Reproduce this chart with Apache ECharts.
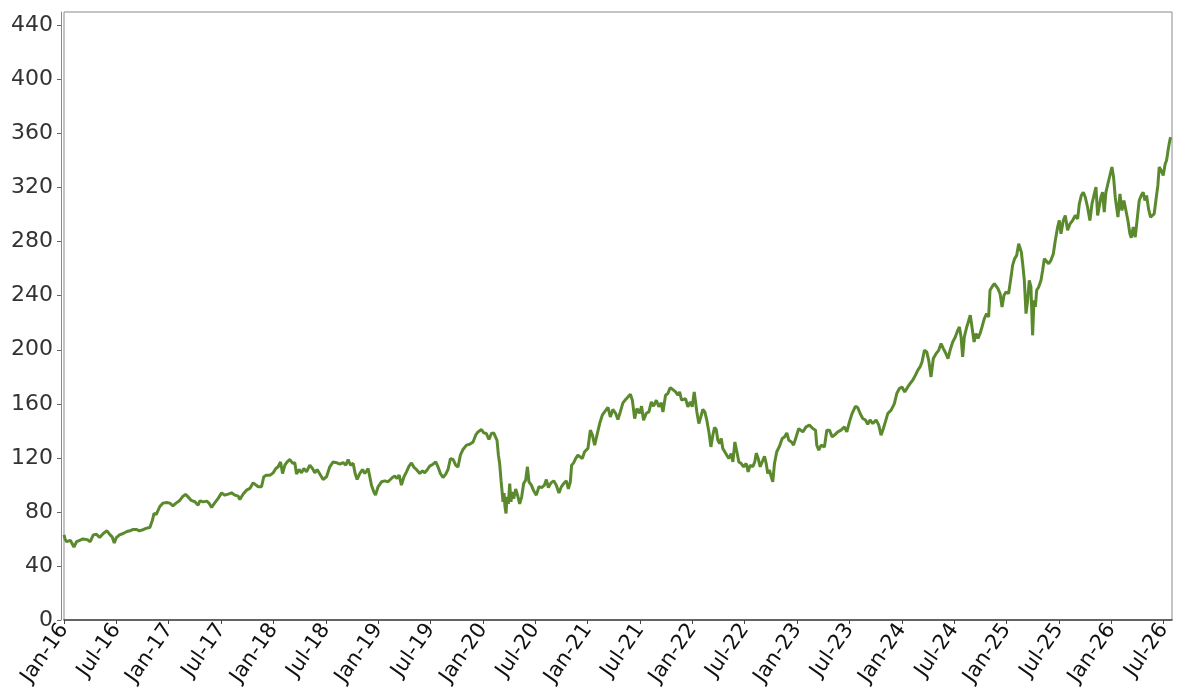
<!DOCTYPE html>
<html>
<head>
<meta charset="utf-8">
<script src="https://cdn.jsdelivr.net/npm/echarts@6/dist/echarts.min.js"></script>
<style>
  html, body { margin: 0; padding: 0; background: #ffffff; }
  #chart { width: 1200px; height: 700px; }
</style>
</head>
<body>
<div id="chart"></div>
<script>
// x = decimal year, y = value
const series2016 = [
  [2016.00,63],[2016.01,60],[2016.025,58],[2016.06,59],[2016.095,54],[2016.12,58],[2016.15,59],[2016.18,60],
  [2016.22,59.5],[2016.25,58],[2016.28,63],[2016.31,63.5],[2016.34,61],[2016.375,64],[2016.41,66],[2016.44,63],
  [2016.46,61.5],[2016.48,57],[2016.50,61],[2016.53,63],[2016.565,64],[2016.60,65.5],[2016.63,66],[2016.66,67],
  [2016.69,67],[2016.72,66],[2016.76,67],[2016.79,68],[2016.82,68.5],[2016.835,68.5],[2016.845,74],[2016.86,79],
  [2016.88,78],[2016.915,84],[2016.945,86.5],[2016.98,87],[2017.01,86.5],[2017.04,84.5],[2017.07,86.5],
  [2017.105,88.5],[2017.135,91.5],[2017.16,93],[2017.18,91.5],[2017.215,88.5],[2017.25,87.5],[2017.28,85]
];
const series2017 = [
  [2017.298,88.2],[2017.329,87.4],[2017.362,88],[2017.387,86.3],[2017.409,83.3],[2017.441,86.8],[2017.472,90],
  [2017.505,94.1],[2017.536,92.4],[2017.568,93.2],[2017.600,94.1],[2017.632,92.4],[2017.663,91.7],[2017.679,89.2],
  [2017.711,93.2],[2017.743,96.1],[2017.775,97.4],[2017.806,101.5],[2017.832,100],[2017.854,98.6],[2017.886,98.6],
  [2017.908,106],[2017.934,107.2],[2017.966,107.2],[2017.997,108.9],[2018.023,112.1],[2018.045,113.4],[2018.068,117],
  [2018.087,108.4],[2018.109,114.6],[2018.131,117],[2018.157,118.8],[2018.182,116],[2018.204,116.4],[2018.220,108],
  [2018.245,111.4],[2018.268,108.9],[2018.290,112.1],[2018.316,109.7],[2018.347,114.6],[2018.373,112.1],
  [2018.395,108.9],[2018.417,111.4],[2018.443,108],[2018.474,104],[2018.507,106],[2018.538,113.4],[2018.570,117],
  [2018.602,116.4],[2018.634,115.3],[2018.665,116.4],[2018.691,114.6],[2018.713,118.8],[2018.736,114.6],
  [2018.761,116],[2018.780,108.4],[2018.799,104],[2018.824,108.4],[2018.850,111.4],[2018.872,108.4],
  [2018.904,112.1],[2018.920,106],[2018.936,99.8],[2018.958,94.9],[2018.974,92.4],[2018.999,98.6],
  [2019.032,102.3],[2019.063,103],[2019.094,102.3]
];
const series2019 = [
  [2019.111,102.3],[2019.136,105.5],[2019.158,106.5],[2019.180,104.8],[2019.200,107.2],[2019.222,99.8],
  [2019.244,105.5],[2019.270,109.7],[2019.295,113.9],[2019.318,116.3],[2019.340,113.2],[2019.365,111.4],
  [2019.397,108.4],[2019.423,110.4],[2019.445,109],[2019.467,111],[2019.492,113.9],[2019.524,115.3],
  [2019.550,117],[2019.572,113.2],[2019.594,108.4],[2019.619,105.5],[2019.645,108],[2019.667,111.4],
  [2019.690,119.5],[2019.715,118.8],[2019.740,114.6],[2019.762,113.2],[2019.785,122],[2019.810,126.2],
  [2019.843,129.4],[2019.874,130.1],[2019.906,131.8],[2019.931,136.8],[2019.953,139.2],[2019.986,141],
  [2020.008,138.5],[2020.033,138],[2020.058,133.6],[2020.081,138],[2020.103,138.5],[2020.122,137.5],
  [2020.135,133],[2020.148,122],[2020.160,115.8],[2020.173,103.5],[2020.182,96.1],[2020.192,87.5],
  [2020.202,94],[2020.211,83.8],[2020.221,78.9],[2020.230,91.2],[2020.243,85.9],[2020.256,101],
  [2020.268,87.5],[2020.281,94.7],[2020.294,89.8],[2020.313,97],[2020.332,92],[2020.351,86],[2020.370,91],
  [2020.389,101],[2020.408,103.5],[2020.425,113.4],[2020.440,102.3],[2020.463,99.8],[2020.485,95.6],
  [2020.510,92.4],[2020.535,98.6],[2020.561,98],[2020.587,99.8],[2020.606,104],[2020.625,98],[2020.650,101.5],
  [2020.676,103],[2020.701,99.8],[2020.726,94],[2020.749,98.6],[2020.771,101],[2020.797,103],[2020.816,97],
  [2020.835,102.3],[2020.847,114.6],[2020.866,116.3],[2020.885,119.5],[2020.907,122]
];
const series2021 = [
  [2020.924,122],[2020.949,119.5],[2020.971,124.5],[2021.003,127],[2021.026,140.5],[2021.045,137],
  [2021.067,129.4],[2021.089,136.8],[2021.115,145.4],[2021.140,151.6],[2021.162,154],[2021.194,157.3],
  [2021.217,150.3],[2021.241,155.8],[2021.267,153],[2021.289,148.4],[2021.312,154],[2021.337,160.7],
  [2021.363,163.2],[2021.385,165.1],[2021.408,167.1],[2021.427,162.7],[2021.449,149.1],[2021.471,156.5],
  [2021.496,153],[2021.515,158.2],[2021.534,147.9],[2021.560,153],[2021.585,154],[2021.608,161.4],
  [2021.630,158.2],[2021.656,162.7],[2021.680,157.8],[2021.703,160.7],[2021.719,154],[2021.744,166.4],
  [2021.766,167.6],[2021.789,172],[2021.814,170.5],[2021.840,168.8],[2021.862,166.4],[2021.878,168.8],
  [2021.897,162.7],[2021.916,161.4],[2021.935,163.9],[2021.957,157.8],[2021.980,161.4],[2021.999,157.8],
  [2022.018,168.8],[2022.031,167.6],[2022.043,154],[2022.062,145.4],[2022.081,150.3],[2022.100,155.8],
  [2022.119,154],[2022.138,147.9],[2022.158,139.2],[2022.177,128.1],[2022.196,137],[2022.212,142.5],
  [2022.228,141],[2022.243,133.1],[2022.260,130.6],[2022.276,134.3],[2022.291,127],[2022.310,128.1],
  [2022.329,122],[2022.348,119.5],[2022.371,123.2],[2022.387,117],[2022.406,131.8],[2022.425,124.5],
  [2022.444,117],[2022.467,115.8],[2022.489,113.4],[2022.514,115.8],[2022.533,109.7],[2022.552,114.6],
  [2022.577,113.4],[2022.596,117],[2022.610,123.5],[2022.629,119.5],[2022.648,113.4],[2022.667,114.6],
  [2022.689,121.2],[2022.705,115.8],[2022.720,108.4],[2022.737,111],[2022.753,106],[2022.768,102.3],
  [2022.784,115.8],[2022.806,124.5],[2022.832,128.6],[2022.858,134.3],[2022.880,135.5],[2022.902,138.5],
  [2022.921,133.1],[2022.947,131.8],[2022.966,129.4],[2022.991,135.5],[2023.016,141.7]
];
const series2023 = [
  [2023.029,141.7],[2023.055,139.2],[2023.086,142.9],[2023.118,144.2],[2023.150,141.7],[2023.176,140.5],
  [2023.188,129.4],[2023.207,125.7],[2023.230,129.4],[2023.261,128.1],[2023.284,140.5],[2023.309,140.5],
  [2023.335,135.5],[2023.357,136.8],[2023.389,139.2],[2023.420,140.5],[2023.452,142.9],[2023.475,139.2],
  [2023.500,146.6],[2023.525,152.8],[2023.557,158.2],[2023.579,157.3],[2023.602,152.8],[2023.627,149.1],
  [2023.653,148],[2023.675,144.9],[2023.697,148],[2023.723,145.4],[2023.754,148],[2023.780,144.2],
  [2023.802,136.8],[2023.824,141.7],[2023.843,146.6],[2023.866,152.8],[2023.898,155.3],[2023.929,160.2],
  [2023.952,167.6],[2023.977,171.3],[2024.002,172.5],[2024.028,168.8],[2024.057,172.5],[2024.079,175],
  [2024.104,177.4],[2024.130,181.1],[2024.152,184.8],[2024.174,187.3],[2024.193,191],[2024.216,199.6],
  [2024.238,198.4],[2024.257,192.2],[2024.279,179.9],[2024.301,193.5],[2024.327,197.1],[2024.352,199.6],
  [2024.375,204.6],[2024.397,200.9],[2024.422,197.1],[2024.441,193.5],[2024.461,199.6],[2024.486,205.8],
  [2024.511,209.5],[2024.534,214.4],[2024.550,216.9],[2024.566,209.5],[2024.581,194.7],[2024.597,209.5],
  [2024.620,216.9],[2024.639,221.8],[2024.654,225.5],[2024.670,216.9],[2024.690,205.8],[2024.709,212],
  [2024.728,208.3],[2024.747,212],[2024.766,216.9],[2024.788,223],[2024.810,226.8],[2024.829,224.3],
  [2024.842,244],[2024.861,246.5],[2024.884,249],[2024.899,250.2],[2024.918,245.2],[2024.938,241.6],
  [2024.957,231.7],[2024.976,240.3],[2024.995,242.8]
];
const series2025 = [
  [2025.020,241.6],[2025.043,253.8],[2025.058,262.5],[2025.077,267.4],[2025.097,269.9],[2025.116,278.5],
  [2025.128,279.7],[2025.141,272.4],[2025.154,263.7],[2025.170,251.4],[2025.186,226.8],[2025.202,236.6],
  [2025.217,251.4],[2025.233,246.5],[2025.249,210.7],[2025.262,236.6],[2025.275,231.7],[2025.288,244],
  [2025.307,246.5],[2025.329,251.4],[2025.345,258.8],[2025.361,267.4],[2025.377,266.2],[2025.402,263.7],
  [2025.424,266.2],[2025.447,271.1],[2025.466,281],[2025.488,290.8],[2025.504,295.7],[2025.520,285.9],
  [2025.542,295.7],[2025.561,299.4],[2025.583,288.4],[2025.606,293.2],[2025.631,295.7],[2025.656,299.4],
  [2025.679,296.9],[2025.695,308],[2025.714,314.2],[2025.733,316.6],[2025.752,312.9],[2025.774,305.5],
  [2025.796,295.7],[2025.816,308],[2025.838,315.4],[2025.854,320.4],[2025.870,299.4],[2025.886,298.2],
  [2025.901,312.9],[2025.917,316.6],[2025.933,301.9],[2025.949,316.6],[2025.968,322.9],[2025.987,329],
  [2026.006,335.2],[2026.022,327.8],[2026.038,312.9],[2026.051,305.5],[2026.064,298.2],[2026.083,315.4],
  [2026.102,303.1],[2026.121,310.5],[2026.140,303.1],[2026.159,295.7],[2026.178,285.9],[2026.191,283],
  [2026.210,290.8],[2026.229,283.4],[2026.248,296.9],[2026.267,310.5],[2026.286,314.2],[2026.305,316.6],
  [2026.321,310.5],[2026.337,314.2],[2026.356,304.3],[2026.375,298.2],[2026.394,296.9],[2026.410,300.6],
  [2026.426,310.5],[2026.445,321.6],[2026.458,335.2],[2026.477,332.7],[2026.496,329],[2026.515,337.7],
  [2026.528,340.1],[2026.540,346.3],[2026.553,352.4],[2026.566,357.4]
];

const xTickLabels = ['Jan-16','Jul-16','Jan-17','Jul-17','Jan-18','Jul-18','Jan-19','Jul-19','Jan-20','Jul-20',
  'Jan-21','Jul-21','Jan-22','Jul-22','Jan-23','Jul-23','Jan-24','Jul-24','Jan-25','Jul-25','Jan-26','Jul-26'];
const yTickValues = [0, 40, 80, 120, 160, 200, 240, 280, 320, 360, 400, 440];

const allData = [].concat(series2016, series2017, series2019, series2021, series2023, series2025);
const xTickValues = xTickLabels.map((_, i) => 2016 + i * 0.5);

const chart = echarts.init(document.getElementById('chart'), null, { renderer: 'canvas' });
chart.setOption({
  animation: false,
  backgroundColor: '#ffffff',
  textStyle: { fontFamily: 'DejaVu Sans' },
  grid: {
    left: 64, right: 28, top: 12, bottom: 80,
    show: true, borderColor: '#8a8a8a', borderWidth: 1, backgroundColor: 'transparent',
    containLabel: false, outerBoundsMode: 'none'
  },
  xAxis: {
    type: 'value',
    min: 2016, max: 2026.58,
    splitLine: { show: false },
    axisLine: { show: true, lineStyle: { color: '#444', width: 1.5 } },
    axisTick: { show: true, length: 4, customValues: xTickValues, lineStyle: { color: '#444' } },
    axisLabel: {
      customValues: xTickValues,
      rotate: 55, margin: 6,
      fontFamily: 'DejaVu Sans', fontSize: 21, color: '#111',
      formatter: function (v) {
        const idx = Math.round((v - 2016) * 2);
        return xTickLabels[idx] !== undefined ? xTickLabels[idx] : '';
      }
    }
  },
  yAxis: {
    type: 'value',
    min: 0, max: 450,
    offset: 3,
    splitLine: { show: false },
    axisLine: { show: true, lineStyle: { color: '#8a8a8a', width: 1 } },
    axisTick: { show: true, length: 4, customValues: yTickValues, lineStyle: { color: '#666' } },
    axisLabel: {
      customValues: yTickValues,
      margin: 8, fontFamily: 'DejaVu Sans', fontSize: 22, color: '#333'
    }
  },
  series: [{
    type: 'line',
    data: allData,
    showSymbol: false,
    symbol: 'none',
    lineStyle: { color: '#5a8a2d', width: 3 },
    itemStyle: { color: '#5a8a2d' }
  }]
});
</script>
</body>
</html>
